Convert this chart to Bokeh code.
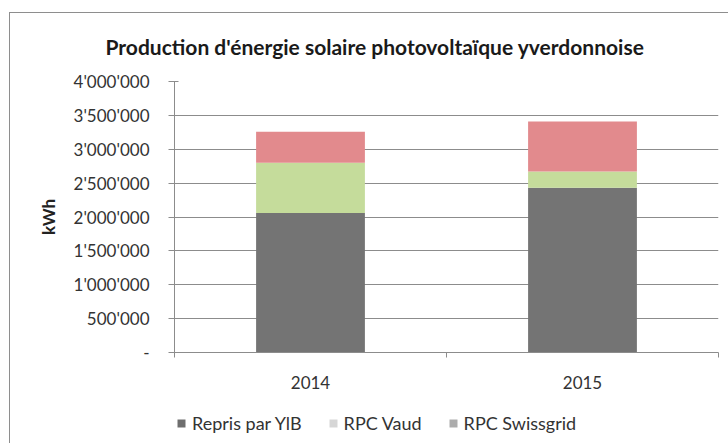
from bokeh.plotting import figure
from bokeh.layouts import column
from bokeh.models import FixedTicker, Range1d, Title, Legend, LegendItem, ColumnDataSource
from bokeh.embed import file_html
from bokeh.resources import INLINE

# ---- data ----
years = ["2014", "2015"]
repris_yib = [2060000, 2430000]
rpc_vaud = [740000, 240000]
rpc_swissgrid = [460000, 740000]
series_names = ["Repris par YlB", "RPC Vaud", "RPC Swissgrid"]
y_ticks = [0, 500000, 1000000, 1500000, 2000000, 2500000, 3000000, 3500000, 4000000]
y_tick_labels = ["-", "500'000", "1'000'000", "1'500'000", "2'000'000",
                 "2'500'000", "3'000'000", "3'500'000", "4'000'000"]
title_text = "Production d'énergie solaire photovoltaïque yverdonnoise"

# ---- style ----
FONT = "Lato"
TXT = "#333333"
bar_colors = ["#747474", "#c5dc9b", "#e28a8d"]
legend_marker_colors = ["#6e6e6e", "#d6d6d6", "#acacac"]
grid_col = "#8c8c8c"
frame_line = "#8e8e8e"
LEGEND_H = 40

x = [i + 0.5 for i in range(len(years))]
source = ColumnDataSource(dict(x=x, repris=repris_yib, vaud=rpc_vaud, swiss=rpc_swissgrid))

p = figure(frame_width=544, frame_height=271,
           x_range=Range1d(0, len(years)), y_range=Range1d(0, 4000000),
           output_backend="svg", toolbar_location=None,
           min_border_left=174, min_border_right=10,
           min_border_top=81, min_border_bottom=51)
# chart-area frame (top and left edges; right/bottom are cropped in the source)
p.styles = {"background": (f"linear-gradient({frame_line},{frame_line}) 9px 12px / 1px 391px no-repeat, "
                           f"linear-gradient({frame_line},{frame_line}) 9px 12px / 719px 1px no-repeat, "
                           "#ffffff")}
p.outline_line_color = None
p.background_fill_color = "white"
p.border_fill_alpha = 0

p.vbar_stack(["repris", "vaud", "swiss"], x="x", width=0.4, source=source,
             fill_color=bar_colors, line_color=None)

# y axis
p.yaxis.ticker = FixedTicker(ticks=y_ticks)
p.yaxis.major_label_overrides = {v: l for v, l in zip(y_ticks, y_tick_labels)}
p.yaxis.axis_line_color = grid_col
p.yaxis.major_tick_line_color = grid_col
p.yaxis.major_tick_in = 4
p.yaxis.major_tick_out = 6
p.yaxis.minor_tick_line_color = None
p.yaxis.major_label_standoff = 19
p.yaxis.major_label_text_font = FONT
p.yaxis.major_label_text_font_size = "17px"
p.yaxis.major_label_text_color = TXT
p.yaxis.axis_label = "kWh"
p.yaxis.axis_label_text_font = FONT
p.yaxis.axis_label_text_font_style = "bold"
p.yaxis.axis_label_text_font_size = "17px"
p.yaxis.axis_label_text_color = "#222222"
p.yaxis.axis_label_standoff = 12

# x axis
p.xaxis.ticker = FixedTicker(ticks=x, minor_ticks=list(range(len(years) + 1)))
p.xaxis.major_label_overrides = {xv: y for xv, y in zip(x, years)}
p.xaxis.axis_line_color = grid_col
p.xaxis.major_tick_line_color = None
p.xaxis.minor_tick_line_color = grid_col
p.xaxis.minor_tick_in = 0
p.xaxis.minor_tick_out = 5
p.xaxis.major_label_standoff = 17
p.xaxis.major_label_text_font = FONT
p.xaxis.major_label_text_font_size = "17px"
p.xaxis.major_label_text_color = TXT

p.xgrid.visible = False
p.ygrid.ticker = FixedTicker(ticks=y_ticks)
p.ygrid.grid_line_color = grid_col

# title
p.add_layout(Title(text=title_text, align="left", offset=-69, standoff=42,
                   vertical_align="top",
                   text_font=FONT, text_font_style="bold", text_font_size="21px",
                   text_color="#1a1a1a"), "above")

# ---- legend strip below the chart (grey swatches as in the source image) ----
p2 = figure(width=728, height=LEGEND_H, x_range=Range1d(0, len(years)), y_range=Range1d(0, 1),
            x_axis_type=None, y_axis_type=None, output_backend="svg", toolbar_location=None,
            min_border_left=0, min_border_right=0, min_border_top=0, min_border_bottom=0)
p2.styles = {"background": (f"linear-gradient({frame_line},{frame_line}) 9px 0px / 1px {LEGEND_H}px no-repeat, "
                            "#ffffff")}
p2.outline_line_color = None
p2.background_fill_alpha = 0
p2.border_fill_alpha = 0
p2.xgrid.visible = False
p2.ygrid.visible = False

items = []
for name, col in zip(series_names, legend_marker_colors):
    r = p2.vbar(x=[x[0]], bottom=[0], top=[float("nan")], width=0.4,
                fill_color=col, line_color=None)
    items.append(LegendItem(label=name, renderers=[r]))
legend = Legend(items=items, orientation="horizontal", location=(2, 9),
                padding=0, margin=0, spacing=26, glyph_width=10, glyph_height=10,
                label_standoff=6, border_line_color=None, background_fill_alpha=0,
                label_text_font=FONT, label_text_font_size="18px", label_text_color=TXT)
p2.add_layout(legend)

layout = column(p, p2, spacing=0)
open("out.html", "w").write(file_html(layout, INLINE))
